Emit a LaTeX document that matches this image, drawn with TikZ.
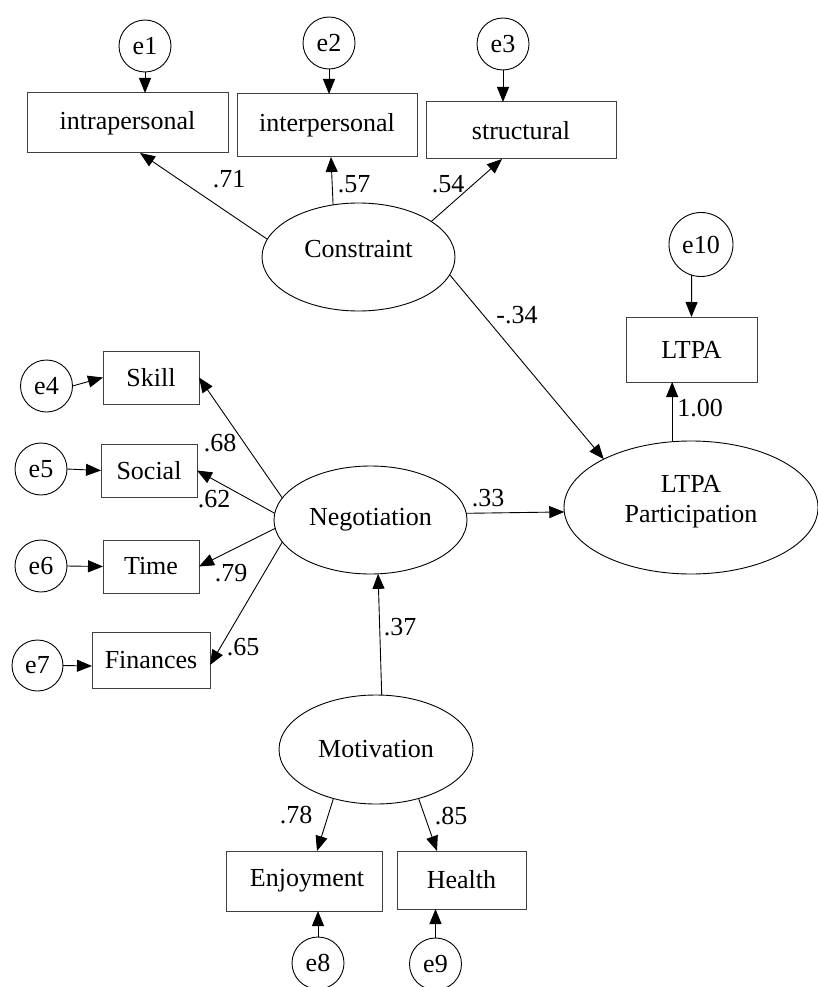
\documentclass[tikz,border=0pt]{standalone}
\usepackage{fontspec}
\setmainfont{Liberation Serif}
\usetikzlibrary{shapes.geometric,arrows.meta,calc}
\begin{document}
\begin{tikzpicture}[x=1pt,y=-1pt,
  every node/.style={font=\fontsize{26}{30}\selectfont, inner sep=0pt, outer sep=0pt},
  obs/.style={draw=black!75, line width=1pt, rectangle},
  err/.style={draw, line width=0.9pt, circle, minimum size=52pt},
  lat/.style={draw, line width=0.9pt, ellipse},
  arr/.style={-{Triangle[length=15pt,width=12pt]}, line width=0.9pt},
  lbl/.style={anchor=center}]
\useasboundingbox (0,0) rectangle (817,987);

% observed boxes
\node[obs, minimum width=201pt, minimum height=60pt] (intra) at (127.5,123) {intrapersonal};
\node[obs, minimum width=180pt, minimum height=63pt] (inter) at (327,125.5) {interpersonal};
\node[obs, minimum width=190pt, minimum height=57pt] (struct) at (521,130.5) {structural};
\node[obs, minimum width=131pt, minimum height=65pt] (ltpa) at (691.5,349.5) {LTPA\hspace{8pt}};
\node[obs, minimum width=96pt, minimum height=53pt] (skill) at (151,377.5) {Skill\hspace{16pt}};
\node[obs, minimum width=96pt, minimum height=53pt] (social) at (149,470.5) {Social};
\node[obs, minimum width=96pt, minimum height=53pt] (time) at (151,566.5) {Time};
\node[obs, minimum width=118pt, minimum height=56pt] (fin) at (151,660) {Finances};
\node[obs, minimum width=156pt, minimum height=60pt] (enj) at (304,881) {\hspace{6pt}Enjoyment};
\node[obs, minimum width=129pt, minimum height=58pt] (health) at (461.5,880) {Health};

% error terms
\node[err] (e1) at (145,46) {e1};
\node[err] (e2) at (329,43) {e2};
\node[err] (e3) at (503,44) {e3};
\node[err, minimum size=64pt] (e10) at (701,244.5) {e10};
\node[err] (e4) at (46.5,386) {e4};
\node[err] (e5) at (41,469) {e5};
\node[err] (e6) at (41,566) {e6};
\node[err, minimum size=51pt] (e7) at (37.5,665.5) {e7};
\node[err] (e8) at (318,963) {e8};
\node[err] (e9) at (435.5,964) {e9};

% latent variables
\node[lat, minimum width=193pt, minimum height=108pt] (con) at (358.5,257) {Constraint\rule[-16pt]{0pt}{0pt}};
\node[lat, minimum width=254pt, minimum height=133pt, align=center] (ltpap) at (691,507.5) {LTPA\\Participation\rule[-18pt]{0pt}{0pt}};
\node[lat, minimum width=193pt, minimum height=108pt] (neg) at (370.5,520) {Negotiation};
\node[lat, minimum width=194pt, minimum height=109pt] (mot) at (376,749.5) {Motivation};

% error arrows
\draw[arr] (e1.south) -- (e1.south |- intra.north);
\draw[arr] (e2.south) -- (e2.south |- inter.north);
\draw[arr] (e3.south) -- (e3.south |- struct.north);
\draw[arr] (e10.253) -- (ltpa.north);
\draw[arr] (e4.east) -- (skill.west);
\draw[arr] (e5.east) -- (social.west);
\draw[arr] (e6.east) -- (time.west);
\draw[arr] (e7.east) -- ([yshift=-6pt]fin.west);
\draw[arr] (e8.north) -- (e8.north |- enj.south);
\draw[arr] (e9.north) -- (e9.north |- health.south);

% loadings and paths
\draw[arr] (con.169) -- ([xshift=12.5pt]intra.south);
\draw[arr] (con.116) -- ([xshift=4pt]inter.south);
\draw[arr] (con.26) -- ([xshift=-19pt]struct.south);
\draw[arr] (con.-11.5) -- (ltpap.151);
\draw[arr] (ltpap.106) -- (ltpap.106 |- ltpa.south);
\draw[arr] (neg.4) -- (ltpap.182);
\draw[arr] (neg.166) -- (skill.east);
\draw[arr] (neg.176) -- (social.east);
\draw[arr] (neg.185) -- (time.east);
\draw[arr] (neg.194) -- ([yshift=-5pt]fin.east);
\draw[arr] (mot.84) -- (neg.-82);
\draw[arr] (mot.229) -- ([xshift=13pt]enj.north);
\draw[arr] (mot.311) -- ([xshift=-24.5pt]health.north);

% coefficient labels
\node[lbl] (l71) at (229,179) {.71};
\node[lbl] (l57) at (354,184) {.57};
\node[lbl] (l54) at (448,184) {.54};
\node[lbl] (l34) at (517,315) {-.34};
\node[lbl] (l100) at (700,408) {1.00};
\node[lbl] (l33) at (488,498) {.33};
\node[lbl] (l68) at (220,443) {.68};
\node[lbl] (l62) at (214,499) {.62};
\node[lbl] (l79) at (231,573) {.79};
\node[lbl] (l65) at (243,647) {.65};
\node[lbl] (l37) at (400,627) {.37};
\node[lbl] (l78) at (296,815) {.78};
\node[lbl] (l85) at (451,816) {.85};
\end{tikzpicture}
\end{document}
